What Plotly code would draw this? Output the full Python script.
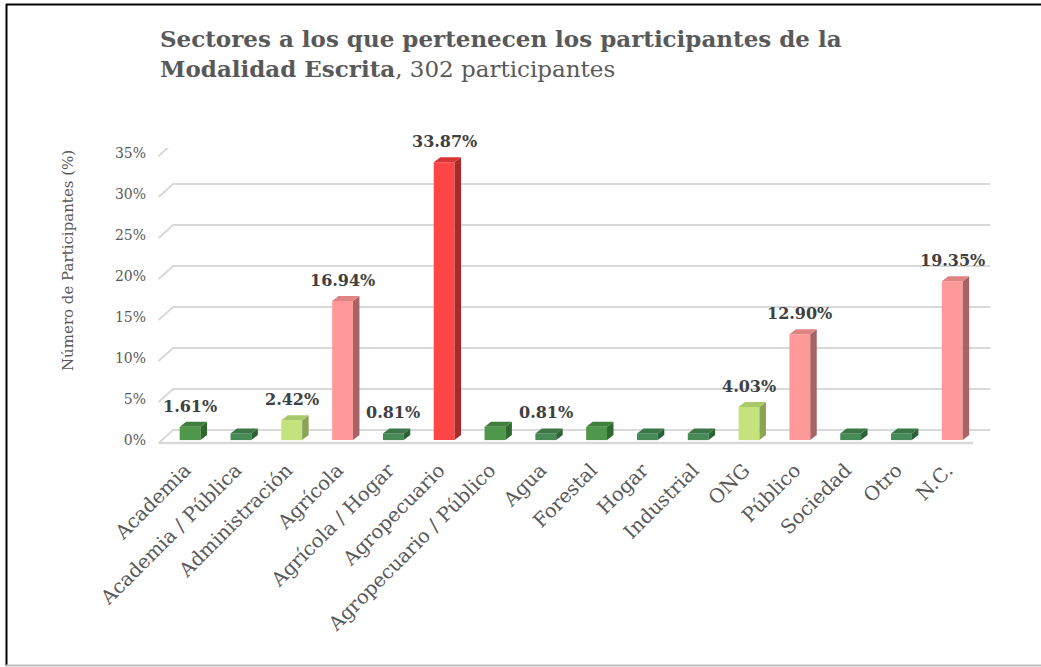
import plotly.graph_objects as go

# ---------------- data ----------------
categories = ["Academia", "Academia / Pública", "Administración", "Agrícola",
              "Agrícola / Hogar", "Agropecuario", "Agropecuario / Público", "Agua",
              "Forestal", "Hogar", "Industrial", "ONG", "Público", "Sociedad",
              "Otro", "N.C."]
values = [1.61, 0.81, 2.42, 16.94, 0.81, 33.87, 1.61, 0.81,
          1.61, 0.81, 0.81, 4.03, 12.90, 0.81, 0.81, 19.35]
show_label = [True, False, True, True, True, True, False, True,
              False, False, False, True, True, False, False, True]
y_ticks = [0, 5, 10, 15, 20, 25, 30, 35]
y_tick_labels = ["0%", "5%", "10%", "15%", "20%", "25%", "30%", "35%"]

# ---------------- styles ----------------
PAL = {
    "g":  ("#4f974b", "#2f692d", "#3f7f3b"),
    "g2": ("#468b55", "#2c6236", "#3a7646"),
    "lg": ("#c4e37d", "#8ba357", "#a9c86a"),
    "pk": ("#ff9999", "#a86464", "#df8383"),
    "rd": ("#ff4545", "#a82b2b", "#d83636"),
}
color_keys = ["g", "g2", "lg", "pk", "g2", "rd", "g", "g2",
              "g", "g2", "g2", "lg", "pk", "g2", "g2", "pk"]

W, H = 1041, 667
ML, MR, MT, MB = 152, 1041 - 998, 148, 222
XR = [-0.75, 15.9]
YR = [-0.6, 35.6]
plot_w = W - ML - MR
plot_h = H - MT - MB
ppx = plot_w / (XR[1] - XR[0])   # pixels per category unit
ppy = plot_h / (YR[1] - YR[0])   # pixels per percent

BAR_W = 0.41
DEPTH_X = 6.5 / ppx
DEPTH_Y = 5.0 / ppy
GRID_C = "#d9d9d9"
TEXT_C = "#595959"
FONT = "DejaVu Serif"

fig = go.Figure()
fig.add_trace(go.Bar(
    x=list(range(len(categories))), y=values, width=BAR_W,
    marker=dict(color=[PAL[k][0] for k in color_keys], line=dict(width=0)),
    hoverinfo="skip", showlegend=False,
))

shapes = []
# 3D style gridlines (back wall lines + diagonal on the left side)
g_back = 10.0 / ppy
g_front = -3.0 / ppy
x_front_left = -0.62
x_back_left = -0.335
x_back_right = 15.75
for v in y_ticks:
    shapes.append(dict(type="path", xref="x", yref="y", layer="below",
                       path=f"M{x_front_left},{v + g_front} L{x_back_left},{v + g_back} L{x_back_right},{v + g_back}",
                       line=dict(color=GRID_C, width=2)))
# floor front edge
shapes.append(dict(type="line", xref="x", yref="y", layer="below",
                   x0=x_front_left, x1=15.41, y0=g_front, y1=g_front,
                   line=dict(color=GRID_C, width=2.5)))

# side and top faces of the bars
for i, (v, k) in enumerate(zip(values, color_keys)):
    front, side, top = PAL[k]
    xr = i + BAR_W / 2
    xl = i - BAR_W / 2
    shapes.append(dict(type="path", xref="x", yref="y", layer="above",
                       path=f"M{xr},0 L{xr + DEPTH_X},{DEPTH_Y} L{xr + DEPTH_X},{v + DEPTH_Y} L{xr},{v} Z",
                       fillcolor=side, line=dict(width=0)))
    shapes.append(dict(type="path", xref="x", yref="y", layer="above",
                       path=f"M{xl},{v} L{xr},{v} L{xr + DEPTH_X},{v + DEPTH_Y} L{xl + DEPTH_X},{v + DEPTH_Y} Z",
                       fillcolor=top, line=dict(width=0)))


def px_x(p):
    return (p - ML) / plot_w


def px_y(p):
    return (H - MB - p) / plot_h


# outer frame
shapes.append(dict(type="line", xref="paper", yref="paper",
                   x0=px_x(6.5), x1=px_x(6.5), y0=px_y(4), y1=px_y(666),
                   line=dict(color="#000000", width=2)))
shapes.append(dict(type="line", xref="paper", yref="paper",
                   x0=px_x(6), x1=px_x(1041), y0=px_y(4.5), y1=px_y(4.5),
                   line=dict(color="#000000", width=2)))
shapes.append(dict(type="line", xref="paper", yref="paper",
                   x0=px_x(6), x1=px_x(1041), y0=px_y(665.5), y1=px_y(665.5),
                   line=dict(color="#bfbfbf", width=2)))

annotations = []
for i, (v, s) in enumerate(zip(values, show_label)):
    if s:
        annotations.append(dict(x=i, y=v, xref="x", yref="y", text=f"<b>{v:.2f}%</b>",
                                showarrow=False, yanchor="bottom", yshift=9,
                                font=dict(family=FONT, size=16, color="#404040")))

annotations.append(dict(x=px_x(68), y=px_y(261), xref="paper", yref="paper",
                        xanchor="center", yanchor="middle",
                        text="Número de Participantes (%)", textangle=-90, showarrow=False,
                        font=dict(family=FONT, size=15, color=TEXT_C)))

fig.update_layout(
    width=W, height=H,
    margin=dict(l=ML, r=MR, t=MT, b=MB, autoexpand=False),
    paper_bgcolor="white", plot_bgcolor="white",
    title=dict(
        text="<b>Sectores a los que pertenecen los participantes de la</b><br>"
             "<b>Modalidad Escrita</b>, 302 participantes",
        x=160 / W, xanchor="left", xref="container",
        y=1 - 47 / H, yanchor="top", yref="container",
        font=dict(family=FONT, size=23, color=TEXT_C),
    ),
    xaxis=dict(range=XR, tickmode="array", tickvals=list(range(len(categories))),
               ticktext=categories, tickangle=-45, showgrid=False, zeroline=False,
               showline=False, ticks="", ticklabelstandoff=9, ticklabelshift=-5,
               tickfont=dict(family=FONT, size=19.5, color=TEXT_C), fixedrange=True),
    yaxis=dict(range=YR, tickmode="array", tickvals=y_ticks, ticktext=y_tick_labels,
               showgrid=False, zeroline=False, showline=False, ticks="",
               ticklabelstandoff=5,
               tickfont=dict(family=FONT, size=14, color=TEXT_C), fixedrange=True),
    shapes=shapes, annotations=annotations,
    bargap=0.5,
)

fig.write_html("out.html", config={"displayModeBar": False, "staticPlot": True},
               post_script="document.body.style.margin='0px';")
